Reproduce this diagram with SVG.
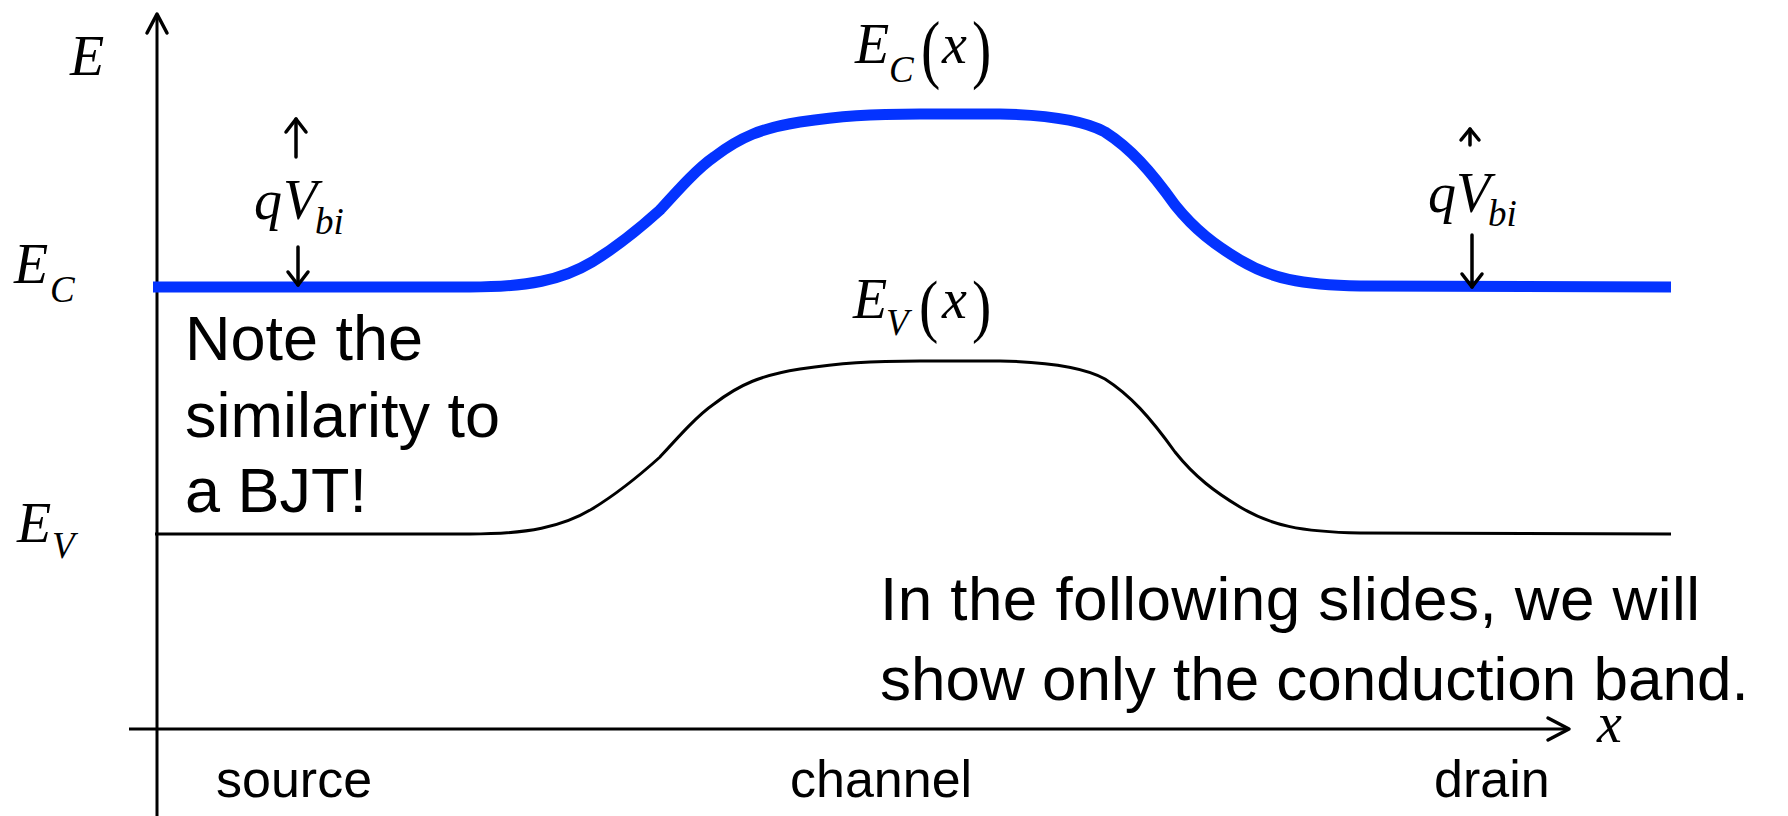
<svg xmlns="http://www.w3.org/2000/svg" width="1788" height="816" viewBox="0 0 1788 816">
<style>
.m{font-family:"Liberation Serif","Times New Roman",serif;font-style:italic;fill:#000}
.p{font-family:"Liberation Serif","Times New Roman",serif;fill:#000}
.s{font-family:"Liberation Sans",Arial,sans-serif;fill:#000}
.ax{stroke:#000;stroke-width:3;fill:none}
.ar{stroke:#000;stroke-width:3.5;fill:none;stroke-linecap:round;stroke-linejoin:round}
</style>
<rect width="1788" height="816" fill="#fff"/>
<g id="axes">
<line class="ax" x1="157" y1="816" x2="157" y2="14"/>
<path class="ar" d="M147,33 L157,14 L167,33"/>
<line class="ax" x1="129" y1="729" x2="1568" y2="729"/>
<path class="ar" d="M1548,718 L1569,729 L1548,740"/>
<text class="m" x="70" y="75" font-size="56">E</text>
<text class="m" x="1597" y="742" font-size="56">x</text>
</g>
<g id="bands">
<path id="ec" d="M153,287 L470,287 C528,287 562,280 592,262 C620,245 640,228 660,210 C680,188 698,168 714,157 C740,137 762,128 800,122 C840,116 870,114 920,114 L1000,114 C1050,115 1085,121 1105,132 C1130,148 1150,170 1175,205 C1195,230 1215,245 1240,260 C1270,278 1300,285 1360,286 L1671,287" fill="none" stroke="#0433ff" stroke-width="11"/>
<path id="ev" transform="translate(0,247)" d="M155,287 L470,287 C528,287 562,280 592,262 C620,245 640,228 660,210 C680,188 698,168 714,157 C740,137 762,128 800,122 C840,116 870,114 920,114 L1000,114 C1050,115 1085,121 1105,132 C1130,148 1150,170 1175,205 C1195,230 1215,245 1240,260 C1270,278 1300,285 1360,286 L1671,287" fill="none" stroke="#000" stroke-width="3"/>
</g>
<g id="labels-left">
<text class="m" x="14" y="283" font-size="56">E</text>
<text class="m" x="50" y="302" font-size="37">C</text>
<text class="m" x="17" y="542" font-size="56">E</text>
<text class="m" x="52" y="558" font-size="37">V</text>
</g>
<g id="ec-label">
<text class="m" x="855" y="63" font-size="56">E</text>
<text class="m" x="889" y="82" font-size="37">C</text>
<text class="p" transform="translate(921,74) scale(1,1.3)" font-size="58">(</text>
<text class="m" x="942" y="63" font-size="56">x</text>
<text class="p" transform="translate(972,74) scale(1,1.3)" font-size="58">)</text>
</g>
<g id="ev-label">
<text class="m" x="853" y="318" font-size="56">E</text>
<text class="m" x="886" y="335" font-size="37">V</text>
<text class="p" transform="translate(919,329) scale(1,1.2)" font-size="58">(</text>
<text class="m" x="942" y="318" font-size="56">x</text>
<text class="p" transform="translate(972,329) scale(1,1.2)" font-size="58">)</text>
</g>
<g id="qvbi-left">
<line class="ar" x1="296" y1="157" x2="296" y2="119"/>
<path class="ar" d="M286,132 L296,119 L306,132"/>
<text class="m" x="254" y="219" font-size="56">q</text>
<text class="m" x="283" y="219" font-size="56">V</text>
<text class="m" x="315" y="234" font-size="37">bi</text>
<line class="ar" x1="298" y1="247" x2="298" y2="285"/>
<path class="ar" d="M288,272 L298,285 L308,272"/>
</g>
<g id="qvbi-right">
<line class="ar" x1="1470" y1="145" x2="1470" y2="129"/>
<path class="ar" d="M1461,140 L1470,129 L1479,140"/>
<text class="m" x="1428" y="212" font-size="56">q</text>
<text class="m" x="1456" y="212" font-size="56">V</text>
<text class="m" x="1488" y="226" font-size="37">bi</text>
<line class="ar" x1="1472" y1="235" x2="1472" y2="287"/>
<path class="ar" d="M1462,274 L1472,287 L1482,274"/>
</g>
<g id="note">
<text class="s" x="185" y="360" font-size="63">Note the</text>
<text class="s" x="185" y="437" font-size="63">similarity to</text>
<text class="s" x="185" y="512" font-size="63">a BJT!</text>
</g>
<g id="following">
<text class="s" x="880" y="620" font-size="62" textLength="820">In the following slides, we will</text>
<text class="s" x="880" y="700" font-size="62">show only the conduction band.</text>
</g>
<g id="regions">
<text class="s" x="216" y="797" font-size="52">source</text>
<text class="s" x="790" y="797" font-size="52">channel</text>
<text class="s" x="1434" y="797" font-size="52">drain</text>
</g>
</svg>
